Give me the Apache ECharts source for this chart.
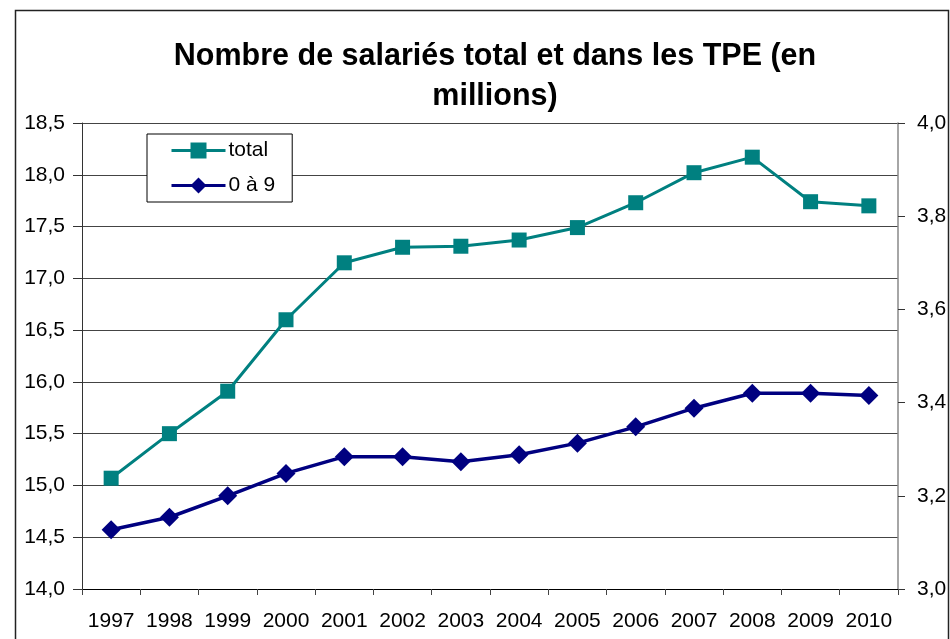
<!DOCTYPE html>
<html>
<head>
<meta charset="utf-8">
<script src="https://cdn.jsdelivr.net/npm/echarts@6/dist/echarts.min.js"></script>
<style>html,body{margin:0;padding:0;background:#fff;}#c{width:950px;height:639px;}</style>
</head>
<body>
<div id="c"></div>
<script>
const years = ['1997','1998','1999','2000','2001','2002','2003','2004','2005','2006','2007','2008','2009','2010'];
const totalValues = [15.07, 15.50, 15.91, 16.60, 17.15, 17.30, 17.31, 17.37, 17.49, 17.73, 18.02, 18.17, 17.74, 17.70];
const tpeValues = [3.127, 3.154, 3.200, 3.248, 3.284, 3.284, 3.273, 3.288, 3.313, 3.348, 3.388, 3.420, 3.420, 3.415];
const titleText = 'Nombre de salariés total et dans les TPE (en\nmillions)';
const seriesNames = ['total', '0 à 9'];

const fmt = v => v.toFixed(1).replace('.', ',');
const chart = echarts.init(document.getElementById('c'), null, {renderer: 'canvas'});
chart.setOption({
  backgroundColor: '#fff',
  animation: false,
  textStyle: {fontFamily: 'Liberation Sans, Arial, sans-serif'},
  title: {
    text: titleText,
    left: 490, top: 32, textAlign: 'center',
    textStyle: {fontSize: 30.5, fontWeight: 'bold', color: '#000', lineHeight: 40, fontFamily: 'Liberation Sans, Arial, sans-serif'}
  },
  graphic: [{
    type: 'rect', silent: true, z: -1,
    shape: {x: 15.5, y: 10.5, width: 933, height: 640},
    style: {fill: 'none', stroke: '#222', lineWidth: 1.5}
  }],
  legend: {
    orient: 'vertical', left: 147, top: 134,
    padding: [6, 17, 6, 23], itemGap: 14, itemWidth: 54, itemHeight: 20,
    borderColor: '#000', borderWidth: 1, backgroundColor: '#fff',
    lineStyle: {width: 3},
    textStyle: {fontSize: 21, color: '#000', fontFamily: 'Liberation Sans, Arial, sans-serif', padding: [0,0,0,-2]},
    data: seriesNames
  },
  grid: {left: 82, right: 52, top: 123, bottom: 50, containLabel: false},
  xAxis: {
    type: 'category', data: years, boundaryGap: true,
    axisLine: {lineStyle: {color: '#000', width: 1}},
    axisTick: {show: true, length: 6, lineStyle: {color: '#444'}},
    axisLabel: {fontSize: 21, color: '#000', margin: 22, interval: 0}
  },
  yAxis: [{
    type: 'value', min: 14, max: 18.5, interval: 0.5, position: 'left',
    axisLine: {show: true, lineStyle: {color: '#333', width: 1}},
    axisTick: {show: true, length: 9, lineStyle: {color: '#333'}},
    splitLine: {show: true, lineStyle: {color: '#444', width: 1}},
    axisLabel: {fontSize: 21, color: '#000', margin: 17, formatter: fmt}
  }, {
    type: 'value', min: 3, max: 4, interval: 0.2, position: 'right',
    axisLine: {show: true, lineStyle: {color: '#888', width: 1.5}},
    axisTick: {show: true, inside: false, length: 7, lineStyle: {color: '#333'}},
    splitLine: {show: false},
    axisLabel: {fontSize: 21, color: '#000', margin: 19, formatter: fmt}
  }],
  series: [{
    name: seriesNames[0], type: 'line', yAxisIndex: 0, data: totalValues,
    symbol: 'rect', symbolSize: 15, showAllSymbol: true,
    lineStyle: {color: '#008080', width: 3}, itemStyle: {color: '#008080'}
  }, {
    name: seriesNames[1], type: 'line', yAxisIndex: 1, data: tpeValues,
    symbol: 'diamond', symbolSize: 19, showAllSymbol: true,
    lineStyle: {color: '#000080', width: 3.5}, itemStyle: {color: '#000080'}
  }]
});
</script>
</body>
</html>
